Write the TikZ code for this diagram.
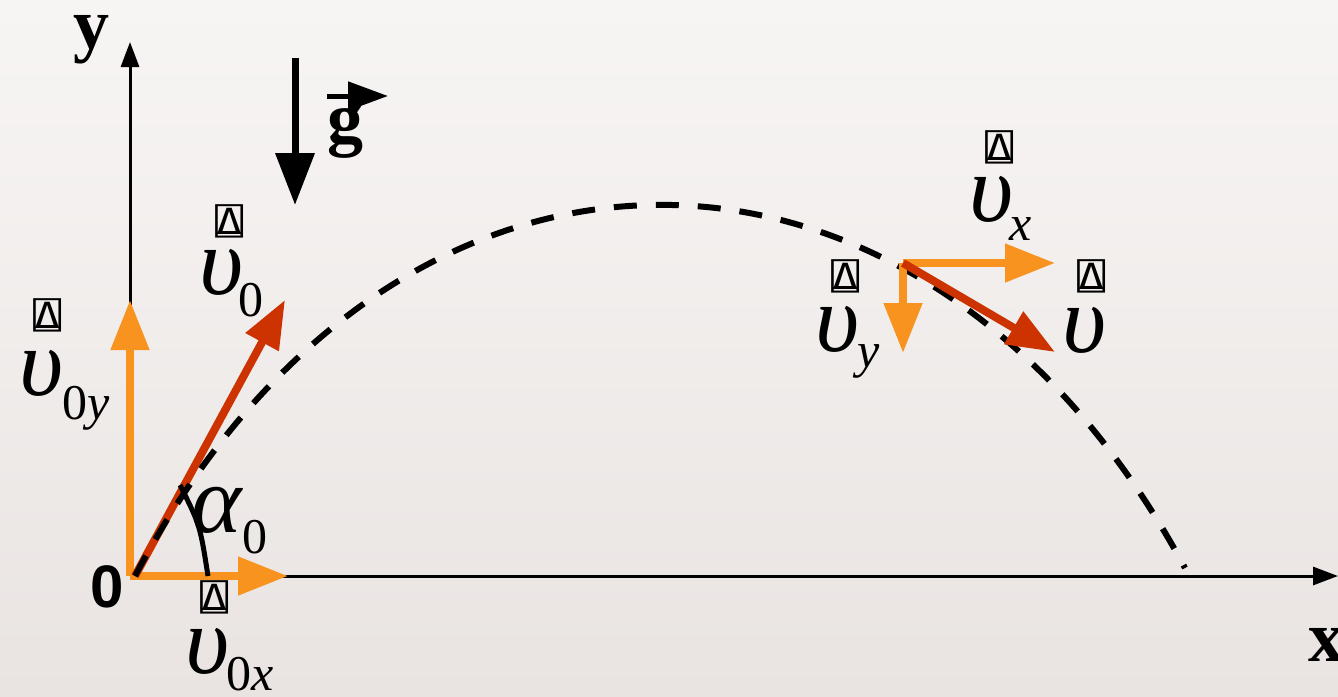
\documentclass[tikz,border=0pt]{standalone}
\usepackage{fontspec}
\setmainfont{Liberation Serif}
\newfontfamily\aplfont{DejaVu Sans Mono}
\newfontfamily\arialfont{Liberation Sans}
\usepackage{tikz}
\usetikzlibrary{positioning,arrows.meta}
\definecolor{bgtop}{HTML}{F7F5F4}
\definecolor{bgbot}{HTML}{E9E4E2}
\definecolor{vorange}{HTML}{F7931E}
\definecolor{vred}{HTML}{CC3300}

\begin{document}
\begin{tikzpicture}[x=1pt, y=-1pt,
  axis/.style={line width=3pt, -{Triangle[length=25pt,width=18pt]}},
  gravity/.style={line width=7pt, -{Triangle[length=52pt,width=38pt]}},
  comp/.style={vorange, line width=8pt, -{Triangle[length=50pt,width=37pt]}},
  full/.style={vred, line width=8pt, -{Triangle[length=48pt,width=36pt]}},
  traj/.style={line width=6pt, dash pattern=on 23pt off 19pt},
  ups/.style={inner sep=0pt, font=\fontsize{96}{96}\selectfont\itshape},
  subs/.style={inner sep=0pt, font=\fontsize{50}{50}\selectfont},
  qd/.style={inner sep=0pt, xscale=1.3, font=\fontsize{36}{36}\selectfont\aplfont},
  axlab/.style={inner sep=0pt, font=\fontsize{72}{72}\selectfont\bfseries}]
  \useasboundingbox (0,0) rectangle (1338,696);
  \shade[top color=bgtop, bottom color=bgbot] (0,0) rectangle (1338,696);

  % axes
  \coordinate (O) at (130,576);
  \coordinate (ytip) at (130,42);
  \coordinate (xtip) at (1338,576);
  \draw[axis] (O) -- (ytip);
  \draw[axis] (O) -- (xtip);
  \node[axlab] (ylab) at (91,40) {y};
  \node[axlab] (xlab) at (1326,645) {x};
  \node[inner sep=0pt, font=\fontsize{60}{60}\selectfont\arialfont\bfseries] (zero) at (107,587) {0};

  % gravity
  \coordinate (gtop) at (295,58);
  \coordinate (gbot) at (295,205);
  \draw[gravity] (gtop) -- (gbot);
  \node[axlab] (g) at (345,132) {g};
  \coordinate (gv0) at (327,96);
  \coordinate (gv1) at (388,96);
  \draw[line width=5pt, -{Triangle[length=40pt,width=28pt]}] (gv0) -- (gv1);

  % launch
  \coordinate (launch) at (135,576);
  \coordinate (v0ytip) at (130,300);
  \coordinate (v0xtip) at (288,576);
  \coordinate (v0tip) at (285,300);
  \draw[comp] (O) -- (v0ytip);
  \draw[comp] (O) -- (v0xtip);
  \draw[full] (launch) -- (v0tip);

  % trajectory
  \coordinate (land) at (1185,568);
  \draw[traj] (launch) .. controls (396,80) and (925,85) .. (land);

  % angle
  \coordinate (a0) at (180,485);
  \coordinate (a1) at (208,576);
  \draw[line width=5pt] (a0) .. controls (200,525) .. (a1);
  \node[ups] (alpha) at (217,510) {α};
  \node[subs] (alphasub) at (255,537) {0};

  % velocity at a later point
  \coordinate (P) at (903,263);
  \coordinate (vxtip) at (1055,263);
  \coordinate (vytip) at (903,353);
  \coordinate (vtip) at (1055,352);
  \draw[comp] (P) -- (vxtip);
  \draw[comp] (P) -- (vytip);
  \draw[full] (P) -- (vtip);

  % labels
  \node[ups] (u0y) at (42,373) {υ};
  \node[qd] (q0y) at (48,315) {⍍};
  \node[subs] (s0y) at (86,408) {0\textit{y}};

  \node[ups] (u0) at (222,272) {υ};
  \node[qd] (q0) at (230,221) {⍍};
  \node[subs] (s0) at (251,300) {0};

  \node[ups] (u0x) at (208,651) {υ};
  \node[qd] (q0x) at (215,597) {⍍};
  \node[subs] (s0x) at (250,674) {0\textit{x}};

  \node[ups] (ux) at (992,199) {υ};
  \node[qd] (qx) at (1000,147) {⍍};
  \node[subs] (sx) at (1021,229) {\textit{x}};

  \node[ups] (uy) at (838,329) {υ};
  \node[qd] (qy) at (846,276) {⍍};
  \node[subs] (sy) at (869,361) {\textit{y}};

  \node[ups] (uv) at (1085,330) {υ};
  \node[qd] (qv) at (1092,276) {⍍};
\end{tikzpicture}
\end{document}
